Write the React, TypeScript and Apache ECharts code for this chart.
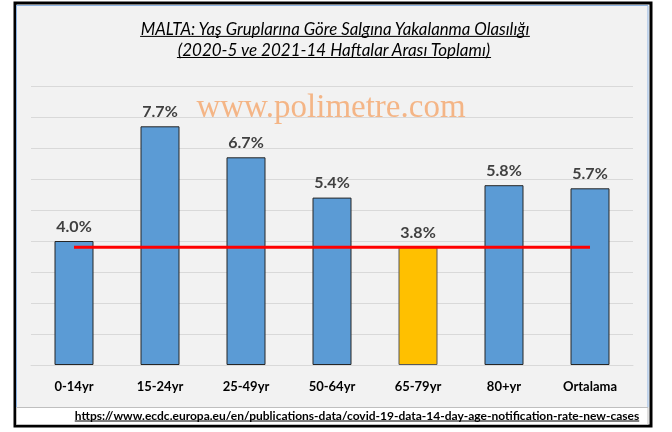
import React, { useEffect, useRef } from "react";
import * as echarts from "echarts";

const categories = ["0-14yr", "15-24yr", "25-49yr", "50-64yr", "65-79yr", "80+yr", "Ortalama"];
const values = [4.0, 7.7, 6.7, 5.4, 3.8, 5.8, 5.7];
const highlightIndex = 4;
const referenceLine = [3.8, 3.8, 3.8, 3.8, 3.8, 3.8, 3.8];
const titleLines = [
  "MALTA: Yaş Gruplarına Göre Salgına Yakalanma Olasılığı",
  "(2020-5 ve 2021-14 Haftalar Arası Toplamı)",
];
const watermark = "www.polimetre.com";
const sourceUrl =
  "https://www.ecdc.europa.eu/en/publications-data/covid-19-data-14-day-age-notification-rate-new-cases";

const FONT = "Lato, 'Open Sans', sans-serif";

function measure(text: string, font: string): number {
  const ctx = document.createElement("canvas").getContext("2d");
  if (!ctx) return text.length * 7;
  ctx.font = font;
  return ctx.measureText(text).width;
}

function underlinedText(text: string, cx: number, cy: number, size: number, weight: string, style: string, color: string) {
  const font = `${style} ${weight} ${size}px ${FONT}`;
  const w = measure(text, font);
  return [
    {
      type: "text",
      x: cx,
      y: cy,
      silent: true,
      style: {
        text,
        fill: color,
        font,
        align: "center",
        verticalAlign: "middle",
      },
      z: 10,
    },
    {
      type: "line",
      silent: true,
      shape: { x1: cx - w / 2, y1: cy + size * 0.5, x2: cx + w / 2, y2: cy + size * 0.5 },
      style: { stroke: color, lineWidth: 1 },
      z: 10,
    },
  ];
}

export default function App() {
  const ref = useRef<HTMLDivElement>(null);

  useEffect(() => {
    if (!ref.current) return;
    const chart = echarts.init(ref.current, undefined, { renderer: "svg" });

    const graphics: any[] = [
      {
        type: "rect",
        shape: { x: 15, y: 3, width: 636, height: 423 },
        style: { fill: "#ffffff", stroke: "#000000", lineWidth: 3 },
        z: -10,
        silent: true,
      },
      {
        type: "rect",
        shape: { x: 16.5, y: 5.5, width: 631.5, height: 402 },
        style: { fill: "#F2F2F2", stroke: "#8DB3E2", lineWidth: 1 },
        z: -9,
        silent: true,
      },
      {
        type: "rect",
        shape: { x: 16.5, y: 407.5, width: 631.5, height: 17 },
        style: { fill: "#ffffff", stroke: "#BFBFBF", lineWidth: 1 },
        z: -8,
        silent: true,
      },
      {
        type: "text",
        x: 331,
        y: 106,
        silent: true,
        z: 1,
        style: {
          text: watermark,
          fill: "rgba(244,170,115,0.85)",
          font: "normal 33px 'Liberation Serif', 'Times New Roman', serif",
          align: "center",
          verticalAlign: "middle",
        },
      },
      ...underlinedText(titleLines[0], 335, 28, 16.8, "normal", "italic", "#000000"),
      ...underlinedText(titleLines[1], 334, 49, 17, "normal", "italic", "#000000"),
      ...underlinedText(sourceUrl, 357, 415, 12, "bold", "normal", "#000000"),
    ];

    chart.setOption({
      animation: false,
      grid: { left: 31, right: 39, top: 86, bottom: 67, containLabel: false },
      graphic: graphics,
      xAxis: {
        type: "category",
        data: categories,
        axisLine: { show: true, lineStyle: { color: "#D9D9D9", width: 1 } },
        axisTick: { show: false },
        axisLabel: {
          color: "#000000",
          fontFamily: FONT,
          fontWeight: "bold",
          fontSize: 13,
          margin: 14,
        },
      },
      yAxis: {
        type: "value",
        min: 0,
        max: 9,
        interval: 1,
        axisLabel: { show: false },
        axisLine: { show: false },
        axisTick: { show: false },
        splitLine: { lineStyle: { color: "#D9D9D9", width: 1 } },
      },
      series: [
        {
          type: "bar",
          barWidth: 39,
          data: values.map((v, i) => ({
            value: v,
            itemStyle: {
              color: i === highlightIndex ? "#FFC000" : "#5B9BD5",
              borderColor: i === highlightIndex ? "#595959" : "#262626",
              borderWidth: 1,
            },
          })),
          label: {
            show: true,
            position: "top",
            distance: 8,
            color: "#404040",
            fontFamily: FONT,
            fontWeight: "bold",
            fontSize: 16,
            formatter: (p: any) => `${Number(p.value).toFixed(1)}%`,
          },
          z: 2,
        },
        {
          type: "line",
          data: referenceLine,
          symbol: "none",
          lineStyle: { color: "#FF0000", width: 3 },
          z: 5,
        },
      ],
    });

    return () => chart.dispose();
  }, []);

  return (
    <div
      ref={ref}
      style={{ position: "fixed", left: 0, top: 0, width: 672, height: 432 }}
    />
  );
}
